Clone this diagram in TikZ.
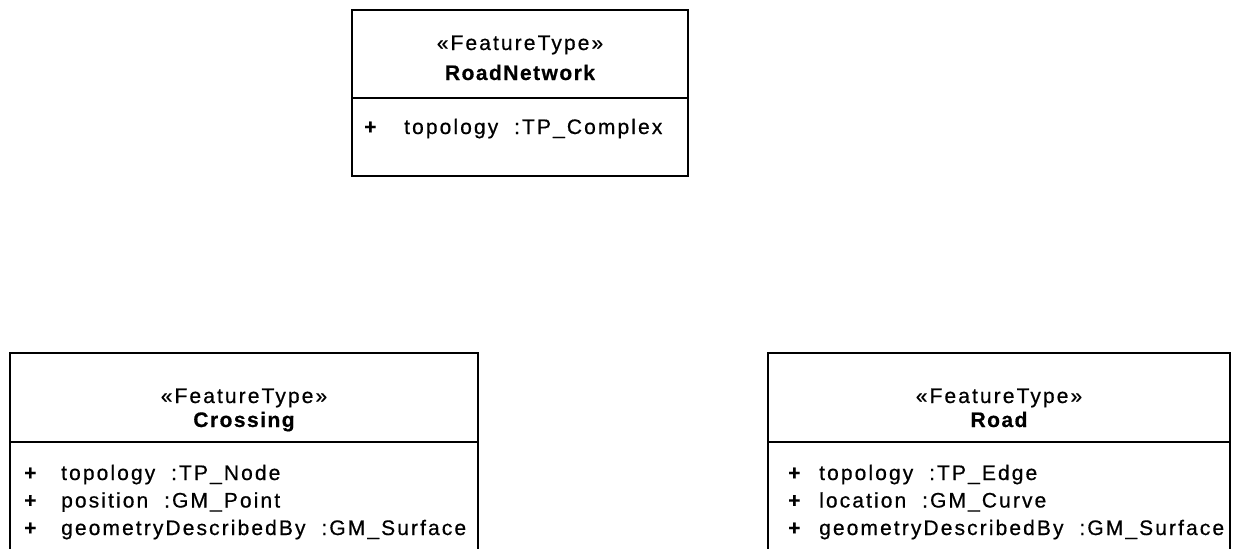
\documentclass[tikz,border=0pt]{standalone}
\usepackage{fontspec}
\setmainfont{Liberation Sans}[LetterSpace=10,FakeBold=0.6,BoldFeatures={LetterSpace=7}]
\begin{document}
\begin{tikzpicture}[x=1pt,y=-1pt,
  box/.style={line width=1.6pt,draw=black},
  txt/.style={inner sep=0pt,font=\fontsize{21}{25}\selectfont},
  stereo/.style={txt,anchor=base},
  cname/.style={txt,anchor=base,font=\fontsize{21}{25}\selectfont\bfseries},
  attr/.style={txt,anchor=base west},
  vis/.style={txt,anchor=base west,font=\fontsize{21}{25}\selectfont\bfseries}]
\useasboundingbox (0,0) rectangle (1235,549);
% RoadNetwork
\draw[box] (352,10) rectangle (688,176);
\draw[box] (352,98) -- (688,98);
\node[stereo] (rnS) at (520,50) {«FeatureType»};
\node[cname] (rnN) at (520,80) {RoadNetwork};
\node[vis] (rnP1) at (364,134) {+};
\node[attr] (rnA1) at (404,134) {topology\ \ :TP\_Complex};
% Crossing
\draw[box] (10,549) -- (10,353) -- (478,353) -- (478,549);
\draw[box] (10,442) -- (478,442);
\node[stereo] (crS) at (244,403) {«FeatureType»};
\node[cname] (crN) at (244,427) {Crossing};
\node[vis] (crP1) at (24,480) {+};
\node[attr] (crA1) at (61,480) {topology\ \ :TP\_Node};
\node[vis] (crP2) at (24,507.5) {+};
\node[attr] (crA2) at (61,507.5) {position\ \ :GM\_Point};
\node[vis] (crP3) at (24,535) {+};
\node[attr] (crA3) at (61,535) {geometryDescribedBy\ \ :GM\_Surface};
% Road
\draw[box] (768,549) -- (768,353) -- (1230,353) -- (1230,549);
\draw[box] (768,442) -- (1230,442);
\node[stereo] (rdS) at (999,403) {«FeatureType»};
\node[cname] (rdN) at (999,427) {Road};
\node[vis] (rdP1) at (788,480) {+};
\node[attr] (rdA1) at (819,480) {topology\ \ :TP\_Edge};
\node[vis] (rdP2) at (788,507.5) {+};
\node[attr] (rdA2) at (819,507.5) {location\ \ :GM\_Curve};
\node[vis] (rdP3) at (788,535) {+};
\node[attr] (rdA3) at (819,535) {geometryDescribedBy\ \ :GM\_Surface};
\end{tikzpicture}
\end{document}
